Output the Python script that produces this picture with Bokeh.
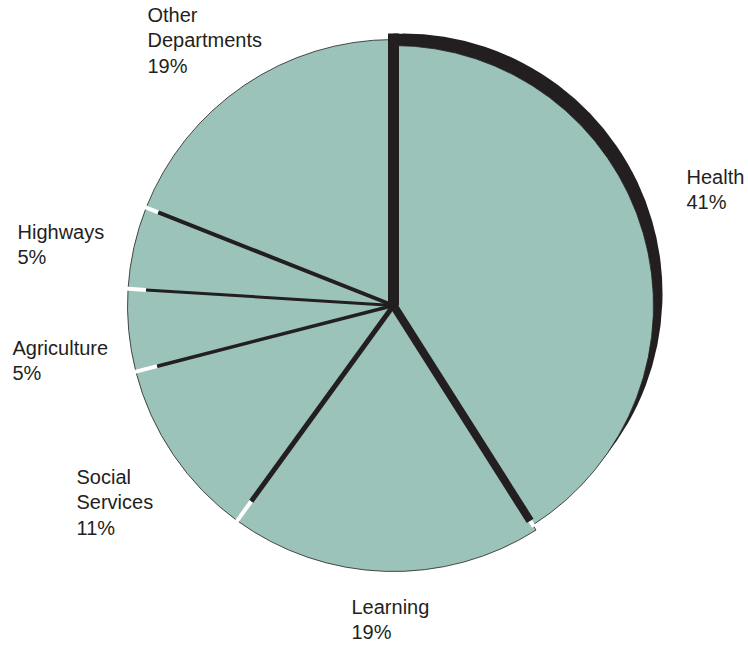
import numpy as np
from bokeh.plotting import figure
from bokeh.models import Range1d, ColumnDataSource
from bokeh.embed import file_html
from bokeh.resources import INLINE
from bokeh.core.properties import value

# ---- data ----
categories = ["Health", "Learning", "Social\nServices", "Agriculture", "Highways", "Other\nDepartments"]
shares = [41, 19, 11, 5, 5, 19]

# ---- layout / style constants ----
FILL = "#9cc3ba"
DARK = "#231f20"
W, H = 748, 645
CX, CY = 393, H - 305          # pie centre (page pixels, y up)
R_MAIN = 266
R_HEALTH = 260
SHADOW_DX, SHADOW_DY = 9, 12
sep_width = [11, 8, 5, 3.5, 3, 4]          # dark separator widths per boundary
sep_end = [272, 255, 242, 244, 248, 253]   # where the dark separator stops
notch_end = [272, 262, 268, 268, 269, 268] # white notch outer radius
# label anchors (left x, top y in page pixels)
label_x = [686, 351, 76, 12, 17, 147]
label_top = [165, 595, 465, 336, 220, 3]

# ---- derived geometry ----
frac = np.array(shares, dtype=float) / sum(shares)
cum = np.concatenate([[0.0], np.cumsum(frac)])
end_ang = np.pi / 2 - 2 * np.pi * cum[:-1]
start_ang = np.pi / 2 - 2 * np.pi * cum[1:]
radii = [R_HEALTH] + [R_MAIN] * (len(shares) - 1)
bound = end_ang  # boundary angles (clockwise start of each slice)

p = figure(width=W, height=H, output_backend="svg", toolbar_location=None,
           x_range=Range1d(0, W), y_range=Range1d(0, H), min_border=0)
p.axis.visible = False
p.grid.visible = False
p.outline_line_color = None
p.background_fill_color = "white"

# shadow behind the largest slice
p.wedge(x=CX + SHADOW_DX, y=CY + SHADOW_DY, radius=R_HEALTH,
        start_angle=start_ang[0], end_angle=end_ang[0],
        fill_color=DARK, line_color=None)
p.wedge(x=CX, y=CY + SHADOW_DY, radius=R_HEALTH,
        start_angle=end_ang[0] - 0.6, end_angle=end_ang[0],
        fill_color=DARK, line_color=None)

src = ColumnDataSource(dict(start=start_ang, end=end_ang, r=radii))
p.wedge(x=CX, y=CY, radius="r", start_angle="start", end_angle="end", source=src,
        fill_color=FILL, line_color=DARK, line_width=0.8)

# separators
c, s = np.cos(bound), np.sin(bound)
se = np.array(sep_end)
ne = np.array(notch_end)
p.segment(x0=CX + se * c, y0=CY + se * s, x1=CX + ne * c, y1=CY + ne * s,
          line_color="white", line_width=4, line_cap="butt")
p.segment(x0=[CX] * len(bound), y0=[CY] * len(bound), x1=CX + se * c, y1=CY + se * s,
          line_color=DARK, line_width=sep_width, line_cap="butt")

labels = [f"{cat}\n{v}%" for cat, v in zip(categories, shares)]
lsrc = ColumnDataSource(dict(x=label_x, y=[H - t for t in label_top], text=labels))
p.text(x="x", y="y", text="text", source=lsrc, text_font=value("Liberation Sans"),
       text_font_size="20px", text_color=DARK, text_line_height=1.16,
       text_baseline="top", text_align="left")

open("out.html", "w").write(file_html(p, INLINE))
